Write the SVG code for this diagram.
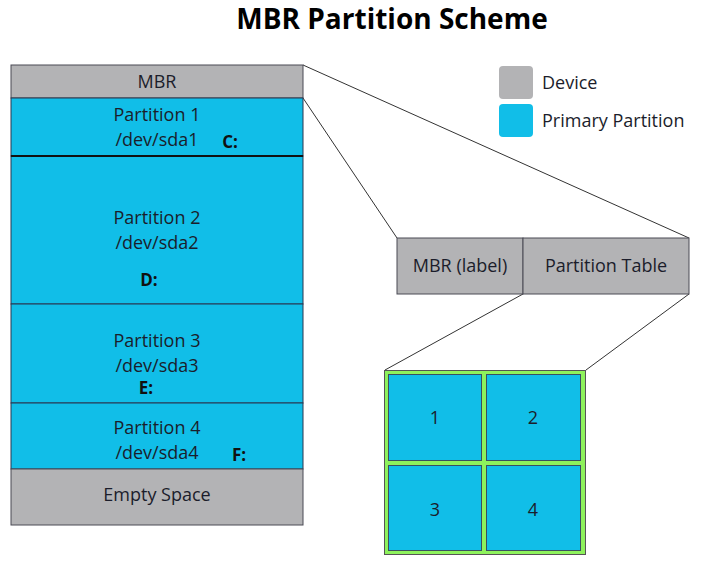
<svg xmlns="http://www.w3.org/2000/svg" width="715" height="580" viewBox="0 0 715 580">
<style>
text{font-family:"Open Sans","Liberation Sans",sans-serif;fill:#1b1d2b;font-size:18px;text-anchor:middle}
.dev{fill:#b3b3b5;stroke:#4a4a55;stroke-width:1}
.pri{fill:#11bee8;stroke:#2a3650;stroke-width:1}
.drv{font-weight:bold;font-size:17px;fill:#111}
.conn{stroke:#333;stroke-width:1;fill:none}
.cell{fill:#11bee8;stroke:#3a5060;stroke-width:1}
</style>
<rect width="715" height="580" fill="#fff"/>
<text x="392" y="29" style="font-size:28px;font-weight:bold;fill:#000">MBR Partition Scheme</text>
<g id="connectors">
<line class="conn" x1="303" y1="65" x2="689" y2="238"/>
<line class="conn" x1="303" y1="98" x2="397" y2="238"/>
<line class="conn" x1="523" y1="294" x2="385" y2="370"/>
<line class="conn" x1="689" y1="294" x2="586" y2="370"/>
</g>
<g id="mbr"><rect class="dev" x="11" y="65" width="292" height="33"/><text x="157" y="88">MBR</text></g>
<g id="part1"><rect class="pri" x="11" y="98" width="292" height="58"/><text x="157" y="121">Partition 1</text><text x="157" y="146">/dev/sda1</text><text class="drv" x="230" y="148">C:</text></g>
<g id="part2"><rect class="pri" x="11" y="156" width="292" height="148"/><text x="157" y="224">Partition 2</text><text x="157" y="249">/dev/sda2</text><text class="drv" x="149" y="286">D:</text></g>
<g id="part3"><rect class="pri" x="11" y="304" width="292" height="99"/><text x="157" y="347">Partition 3</text><text x="157" y="372">/dev/sda3</text><text class="drv" x="146" y="394">E:</text></g>
<g id="part4"><rect class="pri" x="11" y="403" width="292" height="66"/><text x="157" y="434">Partition 4</text><text x="157" y="459">/dev/sda4</text><text class="drv" x="239" y="461">F:</text></g>
<line x1="11" y1="156" x2="303" y2="156" stroke="#111" stroke-width="2"/>
<g id="empty"><rect class="dev" x="11" y="469" width="292" height="56"/><text x="157" y="501">Empty Space</text></g>
<g id="mbrlabel"><rect class="dev" x="397" y="238" width="126" height="56"/><text x="460" y="272">MBR (label)</text></g>
<g id="ptable"><rect class="dev" x="523" y="238" width="166" height="56"/><text x="606" y="272">Partition Table</text></g>
<g id="grid">
<rect x="384.5" y="370.5" width="201" height="184" fill="#8ef25c" stroke="#555" stroke-width="1"/>
<rect class="cell" x="388.5" y="374.5" width="93" height="86"/>
<rect class="cell" x="486.5" y="374.5" width="94" height="86"/>
<rect class="cell" x="388.5" y="465.5" width="93" height="85"/>
<rect class="cell" x="486.5" y="465.5" width="94" height="85"/>
<text x="435" y="424">1</text><text x="533" y="424">2</text>
<text x="435" y="516">3</text><text x="533" y="516">4</text>
</g>
<g id="legend">
<rect x="499" y="66" width="34" height="33" rx="4" fill="#b3b3b5"/>
<text x="542" y="89" style="text-anchor:start">Device</text>
<rect x="499" y="104" width="34" height="33" rx="4" fill="#11bee8"/>
<text x="542" y="127" style="text-anchor:start">Primary Partition</text>
</g>
</svg>
